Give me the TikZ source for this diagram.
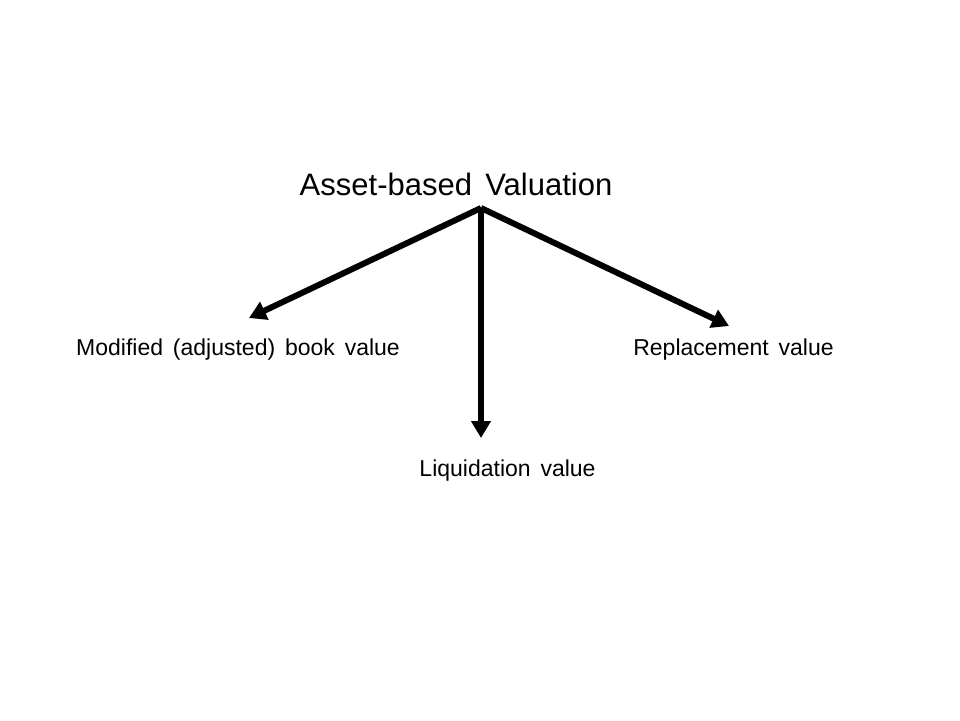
\documentclass[tikz,border=0pt]{standalone}
\usepackage{fontspec}
\setmainfont{Liberation Sans}
\usetikzlibrary{arrows.meta}
\begin{document}
\begin{tikzpicture}[x=1pt,y=-1pt,
  arr/.style={line width=6pt,-{Triangle[length=17pt,width=19pt]}},
  lbl/.style={inner sep=0pt,anchor=base,font=\fontsize{23}{26}\selectfont},
  ttl/.style={inner sep=0pt,anchor=base,font=\fontsize{31}{34}\selectfont}]
\useasboundingbox (0,0) rectangle (960,720);
\node[ttl] (title) at (456,195) {Asset-based\hspace{0.15em} Valuation};
\coordinate (src) at (481,208);
\coordinate (lt) at (249,318);
\coordinate (rt) at (729,326);
\coordinate (dt) at (481,438);
\node[lbl] (mod) at (238,355) {Modified\hspace{0.15em} (adjusted)\hspace{0.15em} book\hspace{0.15em} value};
\node[lbl] (rep) at (733.5,355) {Replacement\hspace{0.15em} value};
\node[lbl] (liq) at (507.5,476) {Liquidation\hspace{0.15em} value};
\draw[arr] (src) -- (lt);
\draw[arr] (src) -- (rt);
\draw[arr] (src) -- (dt);
\end{tikzpicture}
\end{document}
